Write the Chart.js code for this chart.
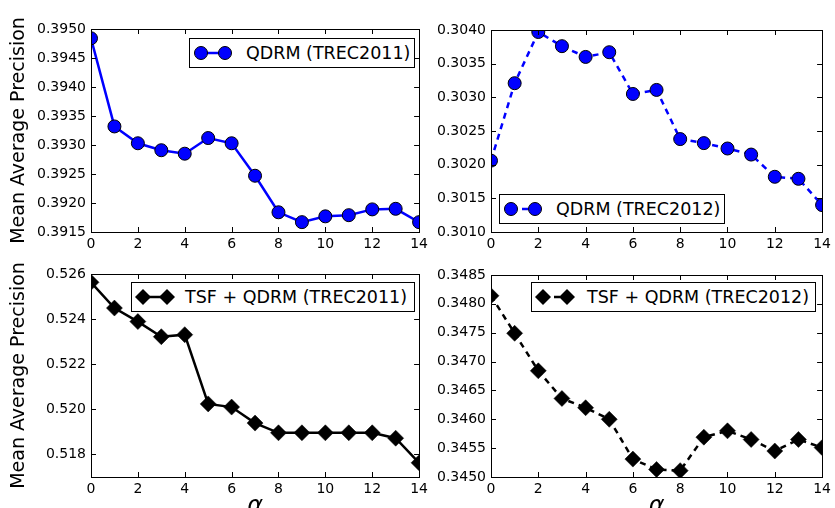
<!DOCTYPE html>
<html>
<head>
<meta charset="utf-8">
<script src="https://cdn.jsdelivr.net/npm/chart.js@4.4.1/dist/chart.umd.min.js"></script>
<style>
  html, body { margin: 0; padding: 0; background: #fff; overflow: hidden; }
  body { width: 835px; height: 508px; position: relative; font-family: "DejaVu Sans", sans-serif; }
  canvas { position: absolute; }
  .leg { position: absolute; box-sizing: border-box; border: 1px solid #000; background: #fff; }
  .leg svg { position: absolute; left: 0; top: 0; }
  .leg span { position: absolute; top: 0; font-size: 17.5px; color: #000; white-space: nowrap; }
</style>
</head>
<body>
<canvas id="c1" width="432" height="254" style="left:0;top:0"></canvas>
<canvas id="c2" width="403" height="254" style="left:432px;top:0"></canvas>
<canvas id="c3" width="432" height="280" style="left:0;top:254px"></canvas>
<canvas id="c4" width="403" height="280" style="left:432px;top:254px"></canvas>
<script>
// valeurs de alpha (axe x)
const alphas = [0, 1, 2, 3, 4, 5, 6, 7, 8, 9, 10, 11, 12, 13, 14];
const xTicks = [0, 2, 4, 6, 8, 10, 12, 14];

// MAP
const qdrm2011 = [0.39484, 0.39332, 0.39303, 0.39291, 0.39285, 0.39312, 0.39303, 0.39247, 0.39184, 0.39167, 0.39177, 0.39179, 0.39189, 0.39190, 0.39167];
const qdrm2012 = [0.30206, 0.30321, 0.30397, 0.30376, 0.30360, 0.30367, 0.30305, 0.30311, 0.30238, 0.30232, 0.30224, 0.30215, 0.30182, 0.30179, 0.30140];
const tsf2011 = [0.52563, 0.52449, 0.52389, 0.52322, 0.52331, 0.52024, 0.52010, 0.51939, 0.51896, 0.51896, 0.51896, 0.51896, 0.51896, 0.51872, 0.51763];
const tsf2012 = [0.34814, 0.34749, 0.34684, 0.34636, 0.34620, 0.34600, 0.34531, 0.34513, 0.34511, 0.34569, 0.34580, 0.34565, 0.34545, 0.34565, 0.34551];

// graduations de l'axe y
const ticks1 = [0.3915, 0.3920, 0.3925, 0.3930, 0.3935, 0.3940, 0.3945, 0.3950];
const ticks2 = [0.3010, 0.3015, 0.3020, 0.3025, 0.3030, 0.3035, 0.3040];
const ticks3 = [0.518, 0.520, 0.522, 0.524, 0.526];
const ticks4 = [0.3450, 0.3455, 0.3460, 0.3465, 0.3470, 0.3475, 0.3480, 0.3485];

const FONT = '"DejaVu Sans", sans-serif';

// cadre + petites graduations vers l'intérieur, sur les 4 côtés
const frameTicks = {
    id: 'frameTicks',
    afterDatasetsDraw(chart) {
        const { ctx, chartArea: a, scales: { x, y } } = chart;
        const len = 5;
        ctx.save();
        ctx.strokeStyle = '#000';
        ctx.lineWidth = 1;
        ctx.beginPath();
        x.ticks.forEach(t => {
            const px = Math.round(x.getPixelForValue(t.value)) + 0.5;
            ctx.moveTo(px, a.bottom); ctx.lineTo(px, a.bottom - len);
            ctx.moveTo(px, a.top); ctx.lineTo(px, a.top + len);
        });
        y.ticks.forEach(t => {
            const py = Math.round(y.getPixelForValue(t.value)) + 0.5;
            ctx.moveTo(a.left, py); ctx.lineTo(a.left + len, py);
            ctx.moveTo(a.right, py); ctx.lineTo(a.right - len, py);
        });
        ctx.stroke();
        ctx.strokeRect(Math.round(a.left) + 0.5, Math.round(a.top) + 0.5,
            Math.round(a.right) - Math.round(a.left), Math.round(a.bottom) - Math.round(a.top));
        ctx.restore();
    }
};

function makeChart(id, cfg) {
    const points = cfg.values.map((v, i) => ({ x: alphas[i], y: v }));
    const isCircle = cfg.marker === 'circle';
    return new Chart(document.getElementById(id), {
        type: 'line',
        data: {
            datasets: [{
                label: cfg.label,
                data: points,
                borderColor: cfg.color,
                borderWidth: 2.5,
                borderDash: cfg.dashed ? [6, 5] : [],
                backgroundColor: cfg.color,
                pointStyle: isCircle ? 'circle' : 'rectRot',
                pointRadius: isCircle ? 6.5 : 8,
                pointBorderColor: '#000',
                pointBorderWidth: isCircle ? 1 : 0.5,
                pointBackgroundColor: cfg.color,
                tension: 0
            }]
        },
        plugins: [frameTicks],
        options: {
            responsive: false,
            animation: false,
            layout: { padding: cfg.padding },
            plugins: { legend: { display: false }, tooltip: { enabled: false } },
            scales: {
                x: {
                    type: 'linear',
                    min: 0, max: 14,
                    afterBuildTicks: s => { s.ticks = xTicks.map(v => ({ value: v })); },
                    afterFit: s => { s.height = cfg.xHeight; },
                    grid: { display: false, drawTicks: false },
                    border: { display: false },
                    ticks: { color: '#000', font: { family: FONT, size: 14 }, padding: 4, maxRotation: 0 },
                    title: {
                        display: cfg.xTitle, text: 'α', color: '#000',
                        font: { family: FONT, size: 24, style: 'italic' },
                        padding: { top: 0, bottom: 13 }
                    }
                },
                y: {
                    type: 'linear',
                    min: cfg.min, max: cfg.max,
                    afterBuildTicks: s => { s.ticks = cfg.yTicks.map(v => ({ value: v })); },
                    afterFit: s => { s.width = cfg.yWidth; },
                    grid: { display: false, drawTicks: false },
                    border: { display: false },
                    ticks: {
                        color: '#000', font: { family: FONT, size: 14 }, padding: 5,
                        callback: v => v.toFixed(cfg.decimals)
                    },
                    title: {
                        display: cfg.yTitle, text: 'Mean Average Precision', color: '#000',
                        font: { family: FONT, size: 19 },
                        padding: { top: 8, bottom: 0 }
                    }
                }
            }
        }
    });
}

makeChart('c1', { label: 'QDRM (TREC2011)', values: qdrm2011, color: '#0000ff', marker: 'circle', dashed: false,
    min: 0.3915, max: 0.3950, yTicks: ticks1, decimals: 4, yTitle: true, xTitle: false,
    yWidth: 91, xHeight: 22, padding: { top: 29, right: 8, left: 0, bottom: 0 } });
makeChart('c2', { label: 'QDRM (TREC2012)', values: qdrm2012, color: '#0000ff', marker: 'circle', dashed: true,
    min: 0.3010, max: 0.3040, yTicks: ticks2, decimals: 4, yTitle: false, xTitle: false,
    yWidth: 59, xHeight: 22, padding: { top: 30, right: 11, left: 0, bottom: 0 } });
makeChart('c3', { label: 'TSF + QDRM (TREC2011)', values: tsf2011, color: '#000000', marker: 'diamond', dashed: false,
    min: 0.517, max: 0.526, yTicks: ticks3, decimals: 3, yTitle: true, xTitle: true,
    yWidth: 91, xHeight: 57, padding: { top: 20, right: 8, left: 0, bottom: 0 } });
makeChart('c4', { label: 'TSF + QDRM (TREC2012)', values: tsf2012, color: '#000000', marker: 'diamond', dashed: true,
    min: 0.3450, max: 0.3485, yTicks: ticks4, decimals: 4, yTitle: false, xTitle: true,
    yWidth: 59, xHeight: 57, padding: { top: 21, right: 11, left: 0, bottom: 0 } });

// légendes encadrées, posées dans les axes
const legends = [
    { label: 'QDRM (TREC2011)', color: '#0000ff', marker: 'circle', dashed: false, left: 189, top: 38, width: 226, height: 30, textX: 56 },
    { label: 'QDRM (TREC2012)', color: '#0000ff', marker: 'circle', dashed: true, left: 499, top: 194, width: 226, height: 30, textX: 56 },
    { label: 'TSF + QDRM (TREC2011)', color: '#000000', marker: 'diamond', dashed: false, left: 131, top: 282, width: 284, height: 30, textX: 53 },
    { label: 'TSF + QDRM (TREC2012)', color: '#000000', marker: 'diamond', dashed: true, left: 531, top: 282, width: 285, height: 30, textX: 55 }
];

legends.forEach(l => {
    const d = document.createElement('div');
    d.className = 'leg';
    d.style.left = l.left + 'px';
    d.style.top = l.top + 'px';
    d.style.width = l.width + 'px';
    d.style.height = l.height + 'px';
    const cy = (l.height - 2) / 2;
    const mk = cx => l.marker === 'circle'
        ? `<circle cx="${cx}" cy="${cy}" r="6.5" fill="${l.color}" stroke="#000" stroke-width="1"/>`
        : `<polygon points="${cx},${cy - 8} ${cx + 8},${cy} ${cx},${cy + 8} ${cx - 8},${cy}" fill="${l.color}"/>`;
    d.innerHTML = `<svg width="60" height="${l.height - 2}">` +
        `<line x1="11" y1="${cy}" x2="35" y2="${cy}" stroke="${l.color}" stroke-width="2.5"` +
        (l.dashed ? ' stroke-dasharray="6,5"' : '') + '/>' +
        mk(11) + mk(35) + '</svg>' +
        `<span style="left:${l.textX}px;line-height:${l.height - 2}px">${l.label}</span>`;
    document.body.appendChild(d);
});
</script>
</body>
</html>
